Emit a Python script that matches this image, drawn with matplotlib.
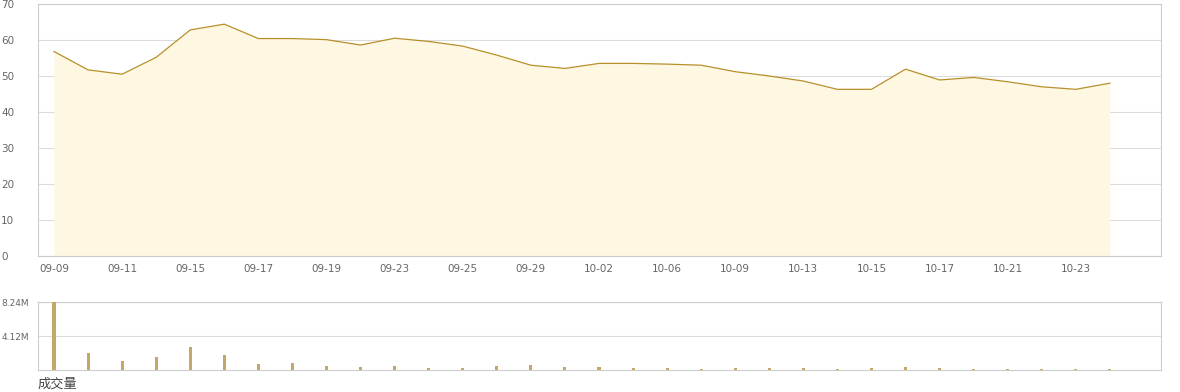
import matplotlib
matplotlib.use("Agg")
import matplotlib.pyplot as plt

# trading days shown on the chart
dates = ["09-09", "09-10", "09-11", "09-12", "09-15", "09-16", "09-17", "09-18",
         "09-19", "09-22", "09-23", "09-24", "09-25", "09-26", "09-29", "09-30",
         "10-02", "10-03", "10-06", "10-08", "10-09", "10-10", "10-13", "10-14",
         "10-15", "10-16", "10-17", "10-20", "10-21", "10-22", "10-23", "10-24"]

# closing price
price = [56.8, 51.7, 50.5, 55.2, 62.8, 64.4, 60.4, 60.4,
         60.1, 58.6, 60.5, 59.6, 58.3, 55.8, 53.0, 52.1,
         53.5, 53.5, 53.3, 53.0, 51.2, 50.0, 48.6, 46.3,
         46.3, 51.9, 48.9, 49.6, 48.4, 47.0, 46.3, 48.0]

# volume (shares)
volume = [8.24e6, 2.08e6, 1.13e6, 1.62e6, 2.83e6, 1.86e6, 0.77e6, 0.89e6,
          0.53e6, 0.40e6, 0.53e6, 0.28e6, 0.28e6, 0.53e6, 0.65e6, 0.40e6,
          0.40e6, 0.28e6, 0.28e6, 0.16e6, 0.28e6, 0.28e6, 0.28e6, 0.16e6,
          0.28e6, 0.40e6, 0.28e6, 0.16e6, 0.16e6, 0.16e6, 0.16e6, 0.16e6]

price_ticks = [0, 10, 20, 30, 40, 50, 60, 70]
vol_ticks = [4.12e6, 8.24e6]
vol_tick_labels = ["4.12M", "8.24M"]

LINE = "#b8902a"
FILL = "#fef7e2"
BAR = "#c4a869"
GRID = "#dcdcdc"
SPINE = "#cccccc"
TEXT = "#666666"

W, H = 1180, 392
fig = plt.figure(figsize=(W / 100, H / 100), dpi=100)

x = list(range(len(dates)))
xlim = (-0.47, 32.5)

# price panel
ax = fig.add_axes([38 / W, 1 - 256 / H, 1123 / W, 252 / H])
ax.fill_between(x, price, 0, color=FILL, lw=0, zorder=2)
ax.plot(x, price, color=LINE, lw=0.9, zorder=3)
ax.set_xlim(*xlim)
ax.set_ylim(0, 70)
ax.set_yticks(price_ticks)
ax.set_xticks(x[::2])
ax.set_xticklabels(dates[::2])
ax.grid(axis="y", color=GRID, lw=0.8, zorder=1)
ax.set_axisbelow(True)
for s in ax.spines.values():
    s.set_color(SPINE)
    s.set_linewidth(0.8)
ax.tick_params(axis="x", length=0, pad=6, labelsize=7.5, labelcolor=TEXT)
ax.tick_params(axis="y", length=0, pad=26.5, labelsize=7.5, labelcolor=TEXT)
for lab in ax.get_yticklabels():
    lab.set_horizontalalignment("left")

# volume panel
axv = fig.add_axes([38 / W, 1 - 370 / H, 1123 / W, 68 / H])
axv.bar(x, volume, width=0.09, color=BAR, zorder=3)
axv.set_xlim(*xlim)
axv.set_ylim(0, 8.24e6)
axv.set_yticks(vol_ticks)
axv.set_yticklabels(vol_tick_labels)
axv.set_xticks([])
axv.grid(axis="y", color=GRID, lw=0.8, zorder=1)
for s in axv.spines.values():
    s.set_color(SPINE)
    s.set_linewidth(0.8)
axv.tick_params(axis="y", length=0, pad=26.5, labelsize=6.5, labelcolor=TEXT)
for lab in axv.get_yticklabels():
    lab.set_horizontalalignment("left")

fig.text(38 / W, 1 - 384 / H, "成交量", family=["Noto Sans CJK SC", "DejaVu Sans"],
         fontsize=9.5, color="#444444", va="center", ha="left")

fig.savefig("out.png", dpi=100, facecolor="white")
